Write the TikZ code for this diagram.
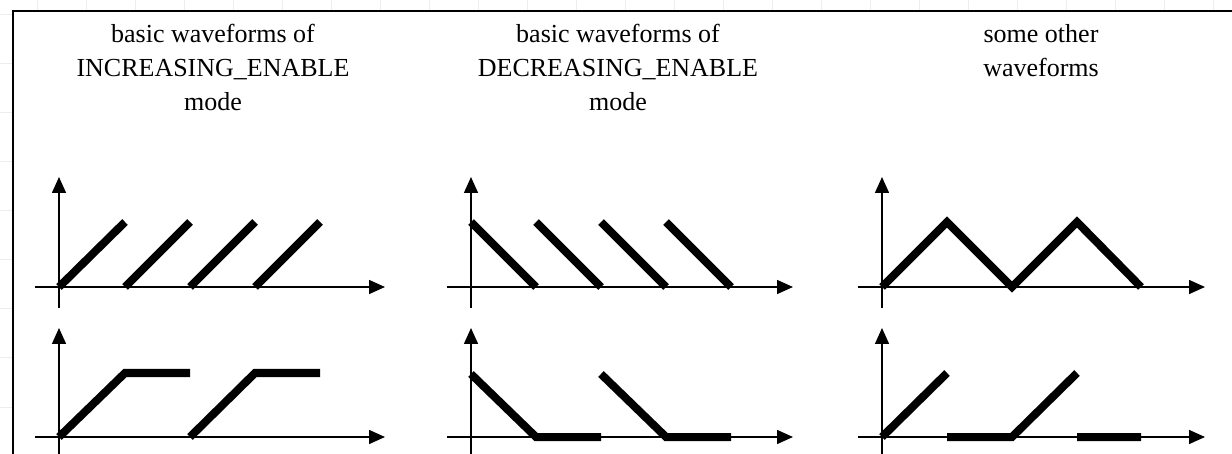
\documentclass[tikz,border=0pt]{standalone}
\usepackage{fontspec}
\setmainfont{Liberation Serif}
\usetikzlibrary{arrows.meta}
\definecolor{gridline}{HTML}{EDEDED}
\tikzset{
  axis/.style={line width=1.5pt,-{Triangle[length=16pt,width=14pt]}},
  wave/.style={line width=8pt},
  caption/.style={anchor=base,inner sep=0pt,font=\fontsize{26}{34}\selectfont}
}

\begin{document}
\begin{tikzpicture}[x=1pt,y=-1pt]
\useasboundingbox (0,0) rectangle (1232,454);
% faint page grid showing outside the frame
\foreach \gx in {37,86,...,1232} \draw[gridline,line width=1pt] (\gx,0)--(\gx,11);
\foreach \gy in {15,64,...,454} \draw[gridline,line width=1pt] (0,\gy)--(13,\gy);
\draw[line width=1.3pt] (1232,11)--(13,11)--(13,454);

% titles
\node[caption] (inctitle) at (213,43) {basic waveforms of};
\node[caption] (incmode) at (213,77) {INCREASING\_ENABLE};
\node[caption] (incword) at (213,111) {mode};
\node[caption] (dectitle) at (618,43) {basic waveforms of};
\node[caption] (decmode) at (618,77) {DECREASING\_ENABLE};
\node[caption] (decword) at (618,111) {mode};
\node[caption] (othtitle) at (1041,43) {some other};
\node[caption] (othword) at (1041,77) {waveforms};

% axes
\draw[axis] (59,308)--(59,177);
\draw[axis] (35,287)--(385,287);
\draw[axis] (59,454)--(59,328);
\draw[axis] (35,437)--(385,437);
\draw[axis] (471,308)--(471,177);
\draw[axis] (447,287)--(793,287);
\draw[axis] (471,454)--(471,328);
\draw[axis] (447,437)--(793,437);
\draw[axis] (882,308)--(882,177);
\draw[axis] (858,287)--(1205,287);
\draw[axis] (882,454)--(882,328);
\draw[axis] (858,437)--(1205,437);

% increasing enable
\draw[wave] (59,287)--(125,222) (125,287)--(190,222) (190,287)--(255,222) (255,287)--(320,222);
\draw[wave] (59,437)--(125,373)--(190,373) (190,437)--(255,373)--(320,373);

% decreasing enable
\draw[wave] (471,222)--(536,287) (536,222)--(601,287) (601,222)--(666,287) (666,222)--(731,287);
\draw[wave] (471,374)--(536,437)--(601,437) (601,374)--(666,437)--(731,437);

% other waveforms
\draw[wave] (882,287)--(947,222)--(1012,287)--(1077,222)--(1141,287);
\draw[wave] (882,437)--(947,373) (947,437)--(1012,437)--(1077,373) (1077,437)--(1141,437);
\end{tikzpicture}
\end{document}
